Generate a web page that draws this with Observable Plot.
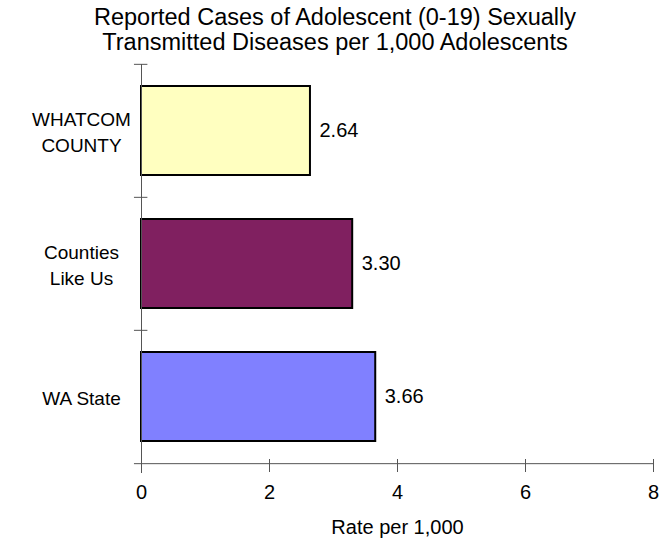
<!DOCTYPE html>
<html><head><meta charset="utf-8">
<script src="https://cdn.jsdelivr.net/npm/d3@7"></script>
<script src="https://cdn.jsdelivr.net/npm/@observablehq/plot@0.6"></script>
<style>
body{margin:0;background:#fff;font-family:"Liberation Sans",Arial,sans-serif;}
#title{height:56px;width:660px;text-align:center;font-size:23.5px;line-height:25px;padding-left:10px;padding-top:5px;box-sizing:border-box;color:#000;}
</style></head><body>
<div id="title">Reported Cases of Adolescent (0-19) Sexually<br>Transmitted Diseases per 1,000 Adolescents</div>
<div id="chart"></div>
<script>
const categories = ["WHATCOM\nCOUNTY", "Counties\nLike Us", "WA State"];
const rates = [2.64, 3.30, 3.66];
const valueLabels = ["2.64", "3.30", "3.66"];
const barColors = ["#ffffc0", "#802060", "#8080ff"];
const xTicks = [0, 2, 4, 6, 8];
const xLabel = "Rate per 1,000";

const data = categories.map((c, i) => ({category: c, rate: rates[i], label: valueLabels[i], color: barColors[i]}));
const frameH = 400;
const step = frameH / categories.length;
const axisColor = "#555";

const chart = Plot.plot({
  width: 660,
  height: 490,
  marginTop: 8,
  marginBottom: 82,
  marginLeft: 141,
  marginRight: 7,
  style: {fontFamily: "Liberation Sans, Arial, sans-serif", fontSize: "20px", color: "#000", background: "#fff"},
  x: {domain: [0, 8], axis: null},
  y: {domain: categories, axis: null, paddingInner: 0.33, paddingOuter: 0.165},
  marks: [
    Plot.barX(data, {x: "rate", y: "category", fill: "color", stroke: "#000", strokeWidth: 2}),
    Plot.ruleX([0], {stroke: axisColor, insetBottom: -9}),
    Plot.ruleY(categories, {y: d => d, dy: -step / 2, x1: -0.11, x2: 0.1, stroke: axisColor}),
    Plot.ruleY([categories[categories.length - 1]], {y: d => d, dy: step / 2, x1: -0.11, x2: 8, stroke: axisColor}),
    Plot.ruleX(xTicks, {x: d => d, insetTop: frameH - 5, insetBottom: -8, stroke: axisColor}),
    Plot.text(xTicks, {x: d => d, frameAnchor: "bottom", dy: 34, text: d => String(d), fontSize: 20}),
    Plot.text([xLabel], {frameAnchor: "bottom", dy: 69, text: d => d, fontSize: 20}),
    Plot.text(data, {y: "category", text: "category", frameAnchor: "left", dx: -60, textAnchor: "middle", lineHeight: 1.35, fontSize: 19}),
    Plot.text(data, {x: "rate", y: "category", text: "label", textAnchor: "start", dx: 9, fontSize: 20})
  ]
});
document.getElementById("chart").appendChild(chart);
</script>
</body></html>
